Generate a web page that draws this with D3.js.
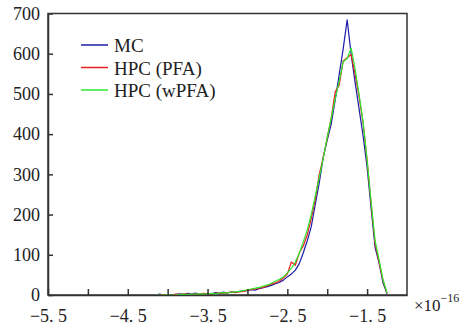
<!DOCTYPE html>
<html>
<head>
<meta charset="utf-8">
<script src="https://cdn.jsdelivr.net/npm/d3@7"></script>
<style>
  body { margin: 0; background: #fff; }
  svg text { font-family: "Liberation Serif", "DejaVu Serif", serif; fill: #222; }
</style>
</head>
<body>
<div id="chart"></div>
<script>
// bin centres (x 1e-16)
const xs = [-4.15, -4.10, -4.05, -4.00, -3.95, -3.90, -3.85, -3.80, -3.75, -3.70,
  -3.65, -3.60, -3.55, -3.50, -3.45, -3.40, -3.35, -3.30, -3.25, -3.20,
  -3.15, -3.10, -3.05, -3.00, -2.95, -2.90, -2.85, -2.80, -2.75, -2.70,
  -2.65, -2.60, -2.55, -2.50, -2.45, -2.40, -2.35, -2.30, -2.25, -2.20,
  -2.15, -2.10, -2.05, -2.00, -1.95, -1.90, -1.85, -1.80, -1.75, -1.70,
  -1.65, -1.60, -1.55, -1.50, -1.45, -1.40, -1.35, -1.30, -1.25];

const mc = [0, 2, 0, 1, 0, 1, 3, 1, 4, 2,
  5, 1, 2, 4, 3, 6, 4, 7, 5, 8,
  7, 9, 10, 11, 13, 12, 16, 18, 21, 24,
  28, 31, 37, 45, 52, 62, 78, 105, 135, 170,
  225, 279, 342, 385, 425, 485, 548, 612, 684, 598,
  528, 462, 395, 318, 215, 118, 80, 30, 3];

const pfa = [0, 0, 1, 0, 0, 2, 1, 3, 2, 1,
  3, 2, 4, 2, 3, 4, 5, 4, 6, 7,
  6, 8, 9, 12, 14, 15, 17, 19, 23, 27,
  30, 35, 42, 52, 82, 74, 105, 122, 150, 190,
  238, 300, 342, 390, 440, 505, 522, 582, 590, 598,
  548, 492, 428, 335, 228, 128, 82, 36, 4];

const wpfa = [0, 0, 0, 1, 0, 0, 1, 2, 1, 2,
  2, 3, 2, 3, 4, 3, 5, 6, 5, 7,
  8, 9, 11, 13, 15, 17, 19, 22, 25, 29,
  34, 39, 45, 55, 66, 82, 104, 132, 162, 200,
  246, 292, 340, 392, 440, 488, 532, 580, 588, 614,
  562, 498, 430, 335, 232, 135, 88, 38, 5];

const seriesNames = ['MC', 'HPC (PFA)', 'HPC (wPFA)'];
const seriesColors = ['#1c1ca8', '#e8211e', '#2ee82e'];

const xTicks = [-5.5, -5.0, -4.5, -4.0, -3.5, -3.0, -2.5, -2.0, -1.5];
const xLabels = [-5.5, -4.5, -3.5, -2.5, -1.5];
const yTicks = [0, 100, 200, 300, 400, 500, 600, 700];

const width = 474, height = 326;
const margin = {top: 13.5, right: 67, bottom: 31, left: 48};

const svg = d3.select('#chart')
  .append('svg')
  .attr('width', width)
  .attr('height', height);

const x = d3.scaleLinear()
  .domain([-5.5, -1.0])
  .range([margin.left, width - margin.right]);

const y = d3.scaleLinear()
  .domain([0, 700])
  .range([height - margin.bottom, margin.top]);

// frame
svg.append('rect')
  .attr('x', x(-5.5))
  .attr('y', y(700))
  .attr('width', x(-1.0) - x(-5.5))
  .attr('height', y(0) - y(700))
  .attr('fill', 'none')
  .attr('stroke', '#333')
  .attr('stroke-width', 1.5);

// series
const line = d3.line()
  .x(d => x(d[0]))
  .y(d => y(d[1]));

[mc, pfa, wpfa].forEach((vals, i) => {
  svg.append('path')
    .datum(xs.map((v, j) => [v, vals[j]]))
    .attr('d', line)
    .attr('fill', 'none')
    .attr('stroke', seriesColors[i])
    .attr('stroke-width', 1.2)
    .attr('stroke-linejoin', 'round');
});

// axes, ticks pointing inward
const fmt = v => (v < 0 ? '\u2212' : '') + Math.abs(v).toFixed(1).replace('.', '. ');

const xAxis = d3.axisBottom(x)
  .tickValues(xTicks)
  .tickSizeInner(-6)
  .tickSizeOuter(0)
  .tickPadding(10)
  .tickFormat(d => xLabels.includes(d) ? fmt(d) : '');

const xAxisGroup = svg.append('g')
  .attr('transform', `translate(0, ${y(0)})`)
  .call(xAxis);

const yAxis = d3.axisLeft(y)
  .tickValues(yTicks)
  .tickSizeInner(-5)
  .tickSizeOuter(0)
  .tickPadding(8);

const yAxisGroup = svg.append('g')
  .attr('transform', `translate(${x(-5.5)}, 0)`)
  .call(yAxis);

[xAxisGroup, yAxisGroup].forEach(g => {
  g.select('.domain').attr('stroke', '#333').attr('stroke-width', 1.5);
  g.selectAll('.tick line').attr('stroke', '#333').attr('stroke-width', 1.5);
  g.selectAll('.tick text')
    .attr('fill', '#222')
    .style('font-family', '"Liberation Serif", serif')
    .style('font-size', '18px');
});
yAxisGroup.selectAll('.tick text').attr('x', -8);
xAxisGroup.selectAll('.tick text').attr('y', 10).attr('dy', '0.95em');

// exponent label
const expo = svg.append('text')
  .attr('x', 414)
  .attr('y', 311)
  .style('font-size', '17px');
expo.append('tspan').text('\u00d710');
expo.append('tspan')
  .attr('dy', -9)
  .style('font-size', '12px')
  .text('\u221216');

// legend
const legend = svg.append('g');
seriesNames.forEach((name, i) => {
  const ly = 45 + i * 22.5;
  legend.append('line')
    .attr('x1', 81).attr('x2', 108)
    .attr('y1', ly).attr('y2', ly)
    .attr('stroke', seriesColors[i])
    .attr('stroke-width', 1.5);
  legend.append('text')
    .attr('x', 114)
    .attr('y', ly + 7)
    .style('font-size', '19px')
    .text(name);
});
</script>
</body>
</html>
